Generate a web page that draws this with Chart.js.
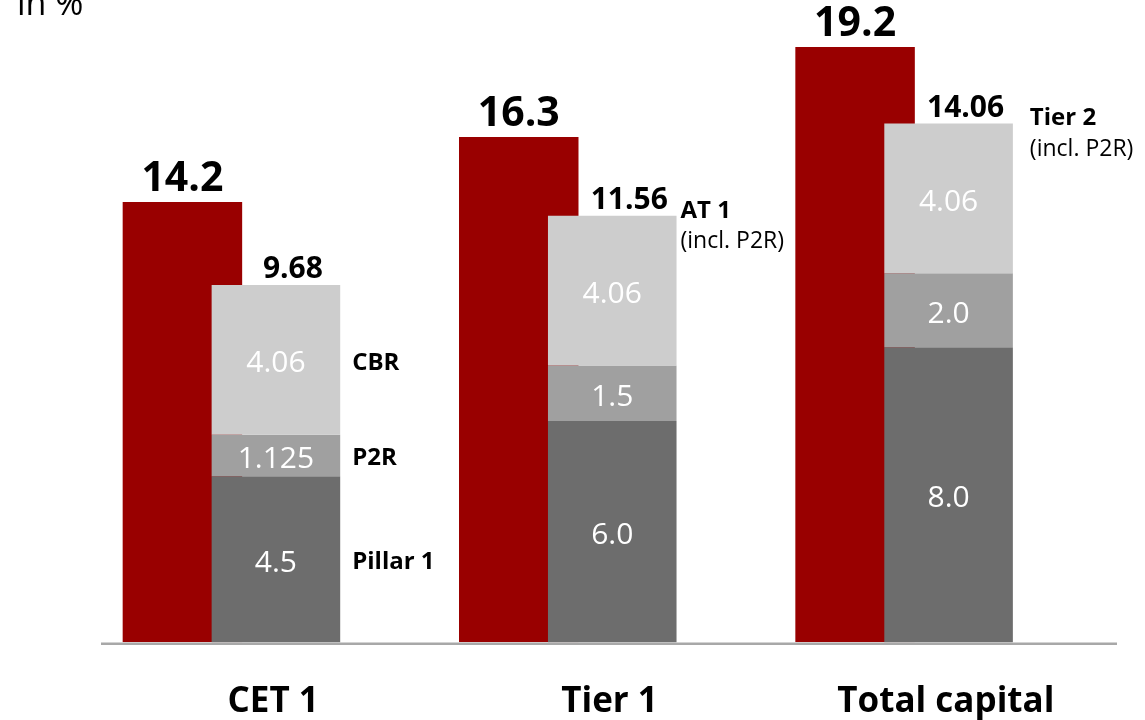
<!DOCTYPE html>
<html>
<head>
<meta charset="utf-8">
<script src="https://cdn.jsdelivr.net/npm/chart.js@4.4.1/dist/chart.umd.min.js"></script>
<style>
  html, body { margin: 0; padding: 0; background: #ffffff; }
  #wrap { position: relative; width: 1145px; height: 720px; }
</style>
</head>
<body>
<div id="wrap"><canvas id="c" width="1145" height="720"></canvas></div>
<script>
// Capital ratios vs. requirements, in %
const categories = ['CET 1', 'Tier 1', 'Total capital'];
const actualRatio = [14.2, 16.3, 19.2];
const pillar1 = [4.5, 6.0, 8.0];
const p2r = [1.125, 1.5, 2.0];
const cbr = [4.06, 4.06, 4.06];
const segmentNames = ['Pillar 1', 'P2R', 'CBR'];
const columnNotes = [null, ['AT 1', '(incl. P2R)'], ['Tier 2', '(incl. P2R)']];
const unitLabel = 'in %';

const FONT = "'Open Sans', 'Noto Sans', sans-serif";
const RED = '#990000';
const SEG_COLORS = ['#6d6d6d', '#a0a0a0', '#cdcdcd'];
const CAT_PCT = 0.556;
const STACK_SETS = [1, 2, 3]; // dataset indices of the requirement stack

function fmtSeg(v) {
  return Number.isInteger(v) ? v.toFixed(1) : String(v);
}
function fmtTotal(v) {
  return (Math.floor(v * 100 + 1e-6) / 100).toFixed(2);
}

const annotate = {
  id: 'annotate',
  // the requirement stack is painted after the red bars so it overlaps them
  beforeDatasetDraw(chart, args) {
    if (STACK_SETS.includes(args.index)) return false;
  },
  afterDatasetsDraw(chart) {
    const ctx = chart.ctx;
    const area = chart.chartArea;
    STACK_SETS.forEach(k => chart.getDatasetMeta(k).controller.draw());

    const base = chart.scales.yG.getPixelForValue(0);
    ctx.save();

    // baseline under the bars
    ctx.strokeStyle = '#a8a8a8';
    ctx.lineWidth = 2.5;
    ctx.beginPath();
    ctx.moveTo(area.left + 40, base + 1.5);
    ctx.lineTo(area.right + 47, base + 1.5);
    ctx.stroke();

    // unit caption
    ctx.fillStyle = '#000';
    ctx.textAlign = 'left';
    ctx.textBaseline = 'alphabetic';
    ctx.font = '400 34px ' + FONT;
    ctx.fillText(unitLabel, 17, 15);

    // actual ratio values above the red bars
    const redMeta = chart.getDatasetMeta(0);
    ctx.font = '700 41px ' + FONT;
    ctx.textAlign = 'center';
    redMeta.data.forEach((el, i) => {
      ctx.fillText(actualRatio[i].toFixed(1), el.x, el.y - 11);
    });

    // segment values inside the stacked requirement bars
    const segSets = [pillar1, p2r, cbr];
    const segMetas = STACK_SETS.map(k => chart.getDatasetMeta(k));
    ctx.fillStyle = '#ffffff';
    ctx.font = '400 30px ' + FONT;
    ctx.textBaseline = 'middle';
    segMetas.forEach((meta, s) => {
      meta.data.forEach((el, i) => {
        ctx.fillText(fmtSeg(segSets[s][i]), el.x, (el.y + el.base) / 2 + 4);
      });
    });

    // requirement totals above the stacks
    const topMeta = segMetas[2];
    ctx.fillStyle = '#000';
    ctx.font = '700 30px ' + FONT;
    ctx.textBaseline = 'alphabetic';
    topMeta.data.forEach((el, i) => {
      const total = pillar1[i] + p2r[i] + cbr[i];
      ctx.fillText(fmtTotal(total), el.x + 17, el.y - 7);
    });

    // component names beside the first stack
    ctx.textAlign = 'left';
    ctx.textBaseline = 'middle';
    ctx.font = '700 24px ' + FONT;
    segMetas.forEach((meta, s) => {
      const el = meta.data[0];
      ctx.fillText(segmentNames[s], el.x + el.width / 2 + 12, (el.y + el.base) / 2 + 3);
    });

    // notes beside the other stacks
    const noteDx = [12, 4, 17];
    topMeta.data.forEach((el, i) => {
      const note = columnNotes[i];
      if (!note) return;
      const x = el.x + el.width / 2 + noteDx[i];
      ctx.font = '700 24px ' + FONT;
      ctx.fillText(note[0], x, el.y - 5);
      ctx.font = '400 23px ' + FONT;
      ctx.fillText(note[1], x, el.y + 26);
    });

    ctx.restore();
  }
};

const barCommon = { categoryPercentage: CAT_PCT, borderWidth: 0 };

new Chart(document.getElementById('c'), {
  type: 'bar',
  data: {
    labels: categories,
    datasets: [
      Object.assign({ label: 'Actual ratio', data: actualRatio, yAxisID: 'yR',
        stack: 'actual', backgroundColor: RED, barPercentage: 1.278 }, barCommon),
      Object.assign({ label: segmentNames[0], data: pillar1, yAxisID: 'yG',
        stack: 'req', backgroundColor: SEG_COLORS[0], barPercentage: 1.375 }, barCommon),
      Object.assign({ label: segmentNames[1], data: p2r, yAxisID: 'yG',
        stack: 'req', backgroundColor: SEG_COLORS[1], barPercentage: 1.375 }, barCommon),
      Object.assign({ label: segmentNames[2], data: cbr, yAxisID: 'yG',
        stack: 'req', backgroundColor: SEG_COLORS[2], barPercentage: 1.375 }, barCommon)
    ]
  },
  options: {
    responsive: false,
    animation: false,
    events: [],
    layout: { padding: { left: 61, right: 75, top: 0, bottom: 0 } },
    plugins: { legend: { display: false }, tooltip: { enabled: false } },
    scales: {
      x: {
        type: 'category',
        offset: true,
        grid: { display: false, drawTicks: false },
        border: { display: false },
        ticks: {
          color: '#000',
          font: { family: FONT, size: 35, weight: '700' },
          padding: 39,
          labelOffset: 44,
          maxRotation: 0
        },
        afterFit: (s) => { s.height = 77.7; }
      },
      yR: {
        display: false,
        stacked: true,
        min: 0,
        max: 20.72
      },
      yG: {
        display: false,
        stacked: true,
        min: 0,
        max: 17.41
      }
    }
  },
  plugins: [annotate]
});
</script>
</body>
</html>
